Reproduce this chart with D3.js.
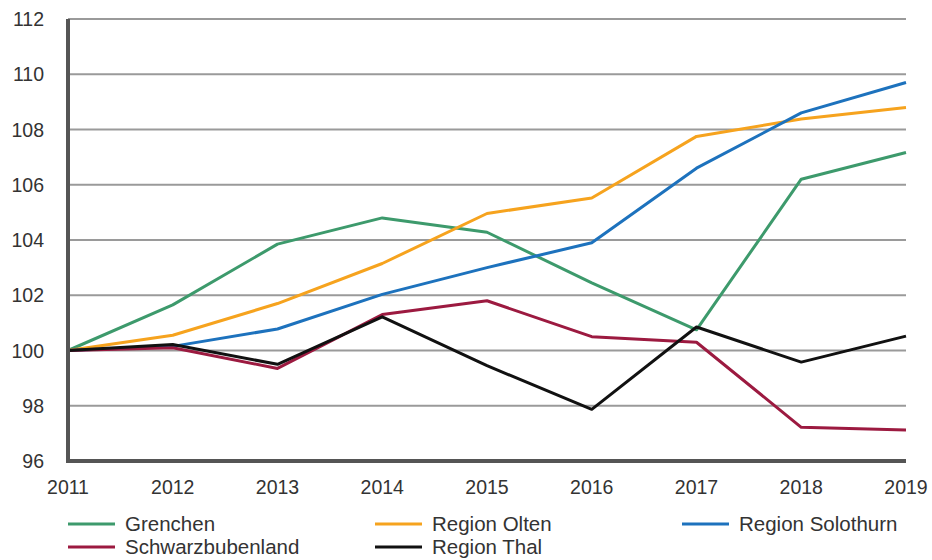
<!DOCTYPE html>
<html><head><meta charset="utf-8">
<script src="https://cdn.jsdelivr.net/npm/d3@7"></script>
<style>body{margin:0;background:#fff}svg{display:block;font-family:"Liberation Sans",Arial,sans-serif}</style>
</head><body><svg id="c" width="932" height="560"></svg>
<script>
const years = [2011, 2012, 2013, 2014, 2015, 2016, 2017, 2018, 2019];
const yTicks = [96, 98, 100, 102, 104, 106, 108, 110, 112];
const grenchen = [100, 101.65, 103.85, 104.8, 104.28, 102.45, 100.75, 106.2, 107.17];
const olten = [100, 100.55, 101.7, 103.15, 104.96, 105.52, 107.75, 108.38, 108.8];
const solothurn = [100, 100.15, 100.78, 102.03, 103.0, 103.9, 106.6, 108.6, 109.7];
const schwarzbubenland = [100, 100.1, 99.35, 101.3, 101.8, 100.5, 100.3, 97.22, 97.12];
const thal = [100, 100.22, 99.5, 101.22, 99.45, 97.87, 100.85, 99.58, 100.52];
const seriesNames = ["Grenchen", "Region Olten", "Region Solothurn", "Schwarzbubenland", "Region Thal"];
const seriesColors = ["#3d9a6c", "#f6a31e", "#1d72bd", "#9c1a40", "#111111"];
const seriesValues = [grenchen, olten, solothurn, schwarzbubenland, thal];

const svg = d3.select("#c");
const x = d3.scaleLinear().domain([2011, 2019]).range([68, 906]);
const y = d3.scaleLinear().domain([96, 112]).range([461, 19]);

// gridlines
svg.append("g").selectAll("line").data(yTicks).join("line")
  .attr("x1", x(2011)).attr("x2", x(2019))
  .attr("y1", d => y(d)).attr("y2", d => y(d))
  .attr("stroke", "#9a9a9a").attr("stroke-width", 2);

// y labels
svg.append("g").selectAll("text").data(yTicks).join("text")
  .attr("x", 44).attr("y", d => y(d)).attr("dy", "0.36em")
  .attr("text-anchor", "end").attr("font-size", 19.5).attr("fill", "#333")
  .text(d => d);

// x labels
svg.append("g").selectAll("text").data(years).join("text")
  .attr("x", d => x(d)).attr("y", 494)
  .attr("text-anchor", "middle").attr("font-size", 19.5).attr("fill", "#333")
  .text(d => d);

// lines
const line = d3.line().x((d, i) => x(years[i])).y(d => y(d));
svg.append("g").selectAll("path").data(seriesValues).join("path")
  .attr("d", d => line(d)).attr("fill", "none")
  .attr("stroke", (d, i) => seriesColors[i]).attr("stroke-width", 3)
  .attr("stroke-linejoin", "round");

// axes
svg.append("line").attr("x1", x(2011)).attr("x2", x(2011)).attr("y1", y(112)).attr("y2", y(96) + 2)
  .attr("stroke", "#555").attr("stroke-width", 4);
svg.append("line").attr("x1", x(2011) - 2).attr("x2", x(2019)).attr("y1", y(96)).attr("y2", y(96))
  .attr("stroke", "#555").attr("stroke-width", 4);

// legend
const legendPos = [[68, 524], [375, 524], [682, 524], [68, 547], [375, 547]];
const lg = svg.append("g").selectAll("g").data(seriesNames).join("g")
  .attr("transform", (d, i) => `translate(${legendPos[i][0]},${legendPos[i][1]})`);
lg.append("line").attr("x1", 0).attr("x2", 47).attr("y1", 0).attr("y2", 0)
  .attr("stroke", (d, i) => seriesColors[i]).attr("stroke-width", 3);
lg.append("text").attr("x", 57).attr("y", 0).attr("dy", "0.36em")
  .attr("font-size", 20.5).attr("fill", "#333").text(d => d);
</script></body></html>
